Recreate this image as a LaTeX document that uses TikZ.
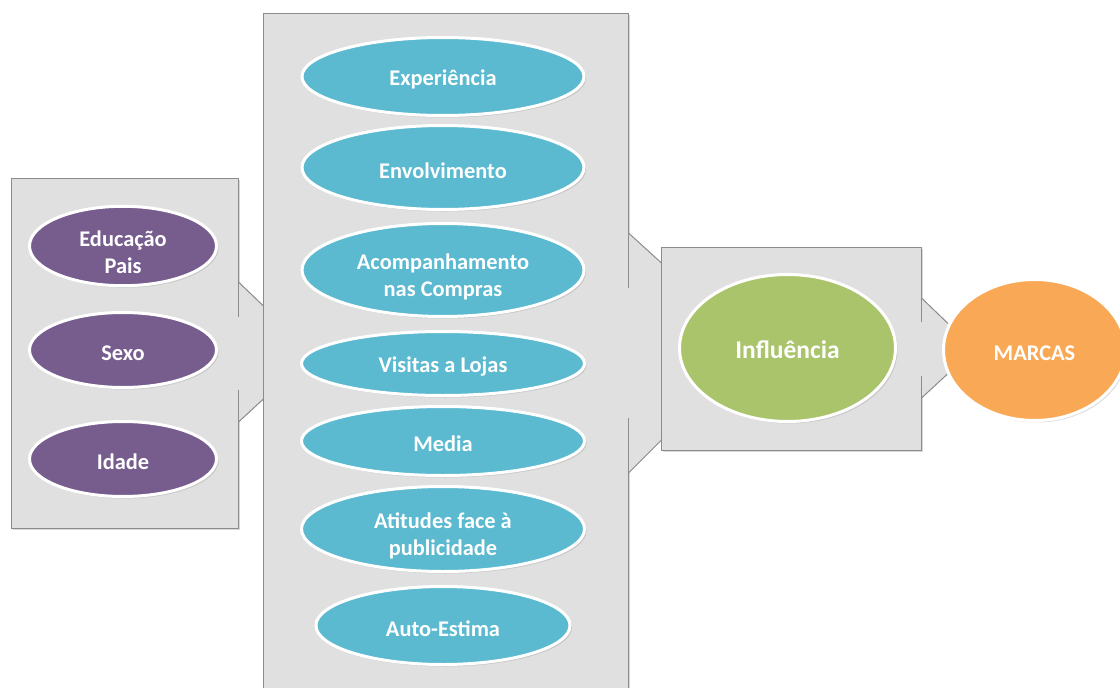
\documentclass[tikz,border=0pt]{standalone}
\usepackage{fontspec}
\setmainfont{Carlito}
\usetikzlibrary{shapes.geometric, shadows, fit, calc}
\definecolor{panelgray}{RGB}{224,224,224}
\definecolor{panelline}{RGB}{140,140,140}
\definecolor{factor}{RGB}{91,185,208}
\definecolor{family}{RGB}{118,93,142}
\definecolor{influence}{RGB}{170,196,108}
\definecolor{brand}{RGB}{249,169,86}

\begin{document}
\begin{tikzpicture}[
    x=1pt, y=-1pt,
    panel/.style={rectangle, fill=panelgray, draw=panelline, line width=1pt,
        inner sep=0pt,
        drop shadow={shadow xshift=1.5pt, shadow yshift=-2pt, opacity=.3}},
    bubble/.style={ellipse, draw=white, line width=3pt, inner sep=0pt,
        align=center, text=white,
        font=\fontsize{22.4}{27}\selectfont\bfseries,
        drop shadow={shadow xshift=2pt, shadow yshift=-2pt, opacity=.25}},
    oneline/.style={text height=22pt},
    twoline/.style={text height=56pt},
    joint/.style={draw=panelline, line width=1pt},
]
    \useasboundingbox (0,0) rectangle (1120,688);
    \clip (0,0) rectangle (1120,688);

    %% the left box, with the three family ellipses
    \node[panel, fit={(11,178) (238,528)}] (left) {};
    \foreach \name/\y/\lines/\txt in {edu/246/twoline/{Educação\\Pais},
            sexo/350/oneline/Sexo, idade/459/oneline/Idade}
        \node[bubble, \lines, fill=family, minimum width=187pt,
            minimum height=75pt] (\name) at (123,\y) {\txt};

    %% joint from the left box into the middle one
    \fill[panelgray] ($(left.east)+(0.5,-71)$) -- ($(left.east)+(26,-46)$)
        -- ($(left.east)+(26,45)$) -- ($(left.east)+(0.5,69)$) -- cycle;
    \fill[panelgray] ($(left.east)+(-1,-36)$) rectangle ($(left.east)+(1,37)$);
    \draw[joint] ($(left.east)+(0,-71)$) -- ($(left.east)+(26,-46)$);
    \draw[joint] ($(left.east)+(0,69)$) -- ($(left.east)+(26,45)$);

    %% the middle box, it runs off the bottom edge
    \node[panel, fit={(263,13) (628,700)}] (mid) {};
    \foreach \name/\y/\w/\h/\lines/\txt in {exp/76.5/282/78/oneline/Experiência,
            env/167.5/282/84/oneline/Envolvimento,
            acomp/270/282/93/twoline/{Acompanhamento\\nas Compras},
            visit/363.5/283/64/oneline/Visitas a Lojas,
            media/441/283/69/oneline/Media,
            atit/529/283/85/twoline/{Atitudes face à\\publicidade},
            auto/625.5/254/78/oneline/Auto-Estima}
        \node[bubble, \lines, fill=factor, minimum width=\w pt,
            minimum height=\h pt] (\name) at (443,\y) {\txt};

    %% joint from the middle box into the influence box
    \fill[panelgray] ($(mid.east)+(0.5,-123.5)$) -- ($(mid.east)+(33,-93.5)$)
        -- ($(mid.east)+(33,83.5)$) -- ($(mid.east)+(0.5,116.5)$) -- cycle;
    \fill[panelgray] ($(mid.east)+(-1,-68.5)$) rectangle ($(mid.east)+(1,61.5)$);
    \draw[joint] ($(mid.east)+(0,-123.5)$) -- ($(mid.east)+(33,-93.5)$);
    \draw[joint] ($(mid.east)+(0,116.5)$) -- ($(mid.east)+(33,83.5)$);

    %% the influence box
    \node[panel, fit={(661,247) (921,450)}] (box) {};
    \node[bubble, oneline, fill=influence, minimum width=216pt,
        minimum height=147pt, font=\fontsize{25.5}{30}\selectfont\bfseries]
        (infl) at (787.5,348) {Influência};

    %% last joint, its tip hides under the brands ellipse
    \fill[panelgray] ($(box.east)+(0.5,-50.5)$) -- ($(box.east)+(39,-13)$)
        -- ($(box.east)+(39,13.5)$) -- ($(box.east)+(0.5,49.5)$) -- cycle;
    \fill[panelgray] ($(box.east)+(-1,-26.5)$) rectangle ($(box.east)+(1,27.5)$);
    \draw[joint] ($(box.east)+(0,-50.5)$) -- ($(box.east)+(39,-13)$);
    \draw[joint] ($(box.east)+(0,49.5)$) -- ($(box.east)+(39,13.5)$);

    \node[bubble, oneline, fill=brand, minimum width=182pt, minimum height=141pt]
        (marcas) at (1034.5,350) {MARCAS};
\end{tikzpicture}
\end{document}
